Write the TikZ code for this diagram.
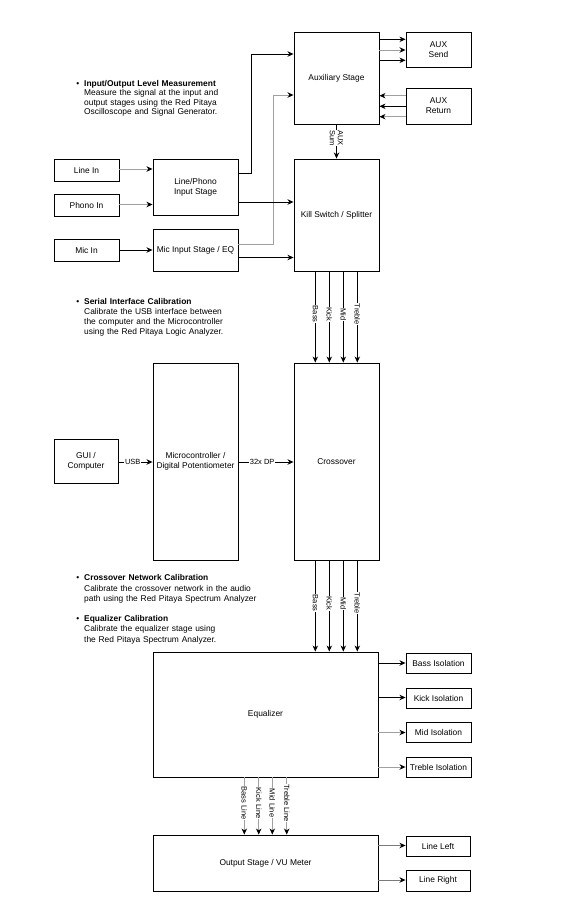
\documentclass[tikz,border=0pt]{standalone}
\usepackage{fontspec}
\setmainfont{Liberation Sans}
\usetikzlibrary{arrows.meta}
\definecolor{lgray}{HTML}{A0A0A0}
\definecolor{dgray}{HTML}{7A7A7A}
\newcommand{\mainfs}{\fontsize{8.4}{10.3}\selectfont}
\newcommand{\labfs}{\fontsize{7.5}{8}\selectfont}
\begin{document}
\begin{tikzpicture}[x=1pt,y=-1pt,
  box/.style={draw, line width=0.9pt, inner sep=1pt, align=center, font=\mainfs},
  arr/.style={line width=0.95pt, -{Stealth[length=6pt,width=5.4pt,inset=1.8pt,color=black,fill=black]}},
  garr/.style={arr, draw=lgray},
  darr/.style={arr, draw=dgray},
  lab/.style={font=\labfs, fill=white, inner sep=0.6pt, rotate=-90},
  elab/.style={font=\labfs, fill=white, inner sep=0.6pt},
  note/.style={anchor=base west, align=left, inner sep=0pt, text width=240pt}]
\fill[white] (0,0) rectangle (563,910);
\useasboundingbox (0,0) rectangle (563,910);

% boxes
\node[box, minimum width=85pt, minimum height=92pt] (aux) at (336.5,78) {Auxiliary Stage};
\node[box, minimum width=65pt, minimum height=35pt] (auxsend) at (438.5,49.5) {AUX\\Send};
\node[box, minimum width=65pt, minimum height=36pt] (auxret) at (438.5,106) {AUX\\Return};
\node[box, minimum width=65pt, minimum height=22pt] (linein) at (86.5,170) {Line In};
\node[box, minimum width=65pt, minimum height=22pt] (phonoin) at (86.5,205) {Phono In};
\node[box, minimum width=65pt, minimum height=22pt] (micin) at (86.5,250) {Mic In};
\node[box, minimum width=85pt, minimum height=56pt] (lpstage) at (195.5,187) {Line/Phono\\Input Stage};
\node[box, minimum width=85pt, minimum height=42pt] (micstage) at (195.5,250) {Mic Input Stage / EQ};
\node[box, minimum width=85pt, minimum height=112pt] (kill) at (336.5,215) {Kill Switch / Splitter};
\node[box, minimum width=85pt, minimum height=197pt] (micro) at (195.5,461.5) {Microcontroller /\\Digital Potentiometer};
\node[box, minimum width=85pt, minimum height=197pt] (cross) at (336.5,461.5) {Crossover};
\node[box, minimum width=64pt, minimum height=44pt] (gui) at (86,461.5) {GUI /\\Computer};
\node[box, minimum width=225pt, minimum height=125pt] (eq) at (265.5,714.5) {Equalizer};
\node[box, minimum width=65pt, minimum height=20pt] (bassiso) at (438.5,663) {Bass Isolation};
\node[box, minimum width=65pt, minimum height=20pt] (kickiso) at (438.5,698) {Kick Isolation};
\node[box, minimum width=65pt, minimum height=20pt] (midiso) at (438.5,732.5) {Mid Isolation};
\node[box, minimum width=65pt, minimum height=20pt] (trebiso) at (438.5,767) {Treble Isolation};
\node[box, minimum width=225pt, minimum height=56pt] (out) at (265.5,863) {Output Stage / VU Meter};
\node[box, minimum width=64pt, minimum height=20pt] (lineleft) at (438,846) {Line Left};
\node[box, minimum width=64pt, minimum height=21pt] (lineright) at (438,880.5) {Line Right};

% notes
\node[note, font=\fontsize{8.4}{9.4}\selectfont] (n1) at (84,86.5) {\llap{\textbullet\hspace{5pt}}\textbf{Input/Output Level Measurement}\\Measure the signal at the input and\\output stages using the Red Pitaya\\Oscilloscope and Signal Generator.};
\node[note, font=\fontsize{8.4}{10.1}\selectfont] (n2) at (84,304) {\llap{\textbullet\hspace{5pt}}\textbf{Serial Interface Calibration}\\Calibrate the USB interface between\\the computer and the Microcontroller\\using the Red Pitaya Logic Analyzer.};
\node[note, font=\fontsize{8.4}{10.6}\selectfont] (n3) at (84,580.5) {\llap{\textbullet\hspace{5pt}}\textbf{Crossover Network Calibration}\\Calibrate the crossover network in the audio\\path using the Red Pitaya Spectrum Analyzer};
\node[note, font=\fontsize{8.4}{10.4}\selectfont] (n4) at (84,621.5) {\llap{\textbullet\hspace{5pt}}\textbf{Equalizer Calibration}\\Calibrate the equalizer stage using\\the Red Pitaya Spectrum Analyzer.};

% auxiliary feeds
\draw[arr] (lpstage.east |- 0,173) -- (251,173) |- (aux.west |- 0,54);
\draw[garr] (micstage.east |- 0,244) -- (273,244) |- (aux.west |- 0,95);
\draw[arr] (aux.east |- 0,39.3) -- (auxsend.west |- 0,39.3);
\draw[garr] (aux.east |- 0,50) -- (auxsend.west |- 0,50);
\draw[arr] (aux.east |- 0,60.3) -- (auxsend.west |- 0,60.3);
\draw[garr] (auxret.west |- 0,95.7) -- (aux.east |- 0,95.7);
\draw[arr] (auxret.west |- 0,106.3) -- (aux.east |- 0,106.3);
\draw[garr] (auxret.west |- 0,116.7) -- (aux.east |- 0,116.7);
\draw[arr] (aux.south) -- node[lab, align=center, pos=0.4] {AUX\\Sum} (kill.north);

% inputs
\draw[garr] (linein.east |- 0,169) -- (lpstage.west |- 0,169);
\draw[garr] (phonoin.east |- 0,204.5) -- (lpstage.west |- 0,204.5);
\draw[arr] (micin.east) -- (micstage.west);
\draw[arr] (lpstage.east |- 0,202) -- (kill.west |- 0,202);
\draw[arr] (micstage.east |- 0,257.5) -- (kill.west |- 0,257.5);

% splitter -> crossover -> equalizer
\foreach \xx/\lbl in {315.3/Bass,329.3/Kick,343.3/Mid,357.3/Treble}{
  \draw[arr] (kill.south -| \xx,0) -- node[lab, pos=0.47] {\lbl} (cross.north -| \xx,0);
  \draw[arr] (cross.south -| \xx,0) -- node[lab, pos=0.47] {\lbl} (eq.north -| \xx,0);
}

% control
\draw[arr] (gui.east |- 0,462) -- node[elab, pos=0.42] {USB} (micro.west |- 0,462);
\draw[arr] (micro.east |- 0,462) -- node[elab, pos=0.43] {32x DP} (cross.west |- 0,462);

% equalizer outputs
\draw[arr] (eq.east |- bassiso.west) -- (bassiso.west);
\draw[arr] (eq.east |- 0,697.5) -- (kickiso.west |- 0,697.5);
\draw[garr] (eq.east |- midiso.west) -- (midiso.west);
\draw[garr] (eq.east |- trebiso.west) -- (trebiso.west);

% equalizer -> output stage
\foreach \xx/\lbl in {244.3/Bass Line,258.7/Kick Line,272.3/Mid Line,286.7/Treble Line}{
  \draw[garr] (eq.south -| \xx,0) -- node[lab, pos=0.45] {\lbl} (out.north -| \xx,0);
}

% outputs
\draw[darr] (out.east |- 0,845.5) -- (lineleft.west |- 0,845.5);
\draw[darr] (out.east |- 0,880) -- (lineright.west |- 0,880);
\end{tikzpicture}
\end{document}
